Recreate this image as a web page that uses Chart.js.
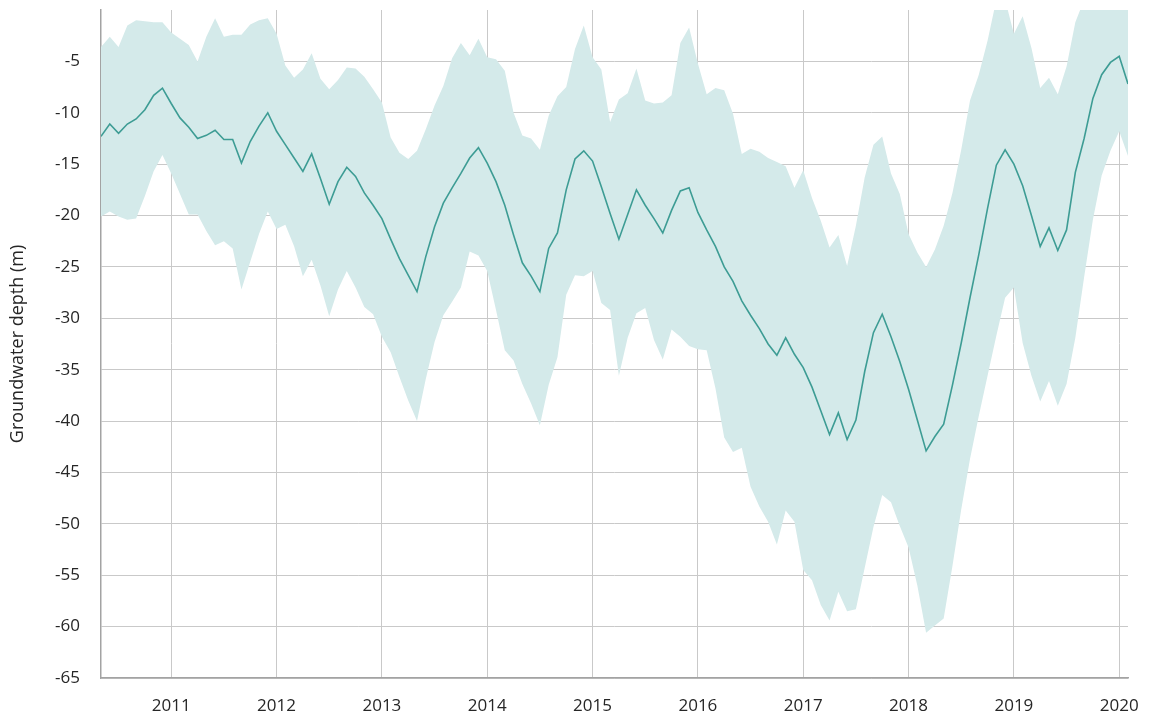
<!DOCTYPE html>
<html>
<head>
    <title>Groundwater depth</title>
    <style>
        body {
            margin: 0;
            background: #ffffff;
        }
        .chart-box {
            width: 1149px;
            height: 722px;
        }
    </style>
</head>
<body>
    <div class="chart-box">
        <canvas id="depthChart" width="1149" height="722"></canvas>
    </div>

    <script src="https://cdn.jsdelivr.net/npm/chart.js"></script>
    <script>
        // monthly series, first value is May 2010
        const startYear = 2010;
        const startMonth = 5;

        const depthMedian = [
            -12.3, -11.1, -12.0, -11.1, -10.6, -9.7, -8.3, -7.6, -9.1, -10.5, -11.4, -12.5,
            -12.2, -11.7, -12.6, -12.6, -14.9, -12.8, -11.3, -10.0, -11.8, -13.1, -14.4, -15.7,
            -14.0, -16.4, -18.9, -16.7, -15.3, -16.2, -17.8, -19.0, -20.3, -22.3, -24.2, -25.8,
            -27.4, -24.0, -21.1, -18.8, -17.3, -15.9, -14.4, -13.4, -14.9, -16.7, -19.0, -21.9,
            -24.6, -25.9, -27.4, -23.2, -21.7, -17.5, -14.5, -13.7, -14.7, -17.2, -19.8, -22.3,
            -19.9, -17.5, -19.0, -20.3, -21.7, -19.5, -17.6, -17.3, -19.7, -21.4, -23.0, -25.0,
            -26.4, -28.3, -29.7, -31.0, -32.5, -33.6, -31.9, -33.5, -34.8, -36.7, -39.0, -41.3,
            -39.2, -41.8, -39.9, -35.2, -31.4, -29.6, -31.8, -34.2, -36.9, -39.9, -42.9, -41.5,
            -40.3, -36.5, -32.4, -28.0, -23.8, -19.3, -15.1, -13.6, -15.0, -17.1, -20.0, -23.0,
            -21.2, -23.4, -21.4, -15.8, -12.5, -8.6, -6.3, -5.1, -4.5, -7.2
        ];

        const depthUpper = [
            -3.6, -2.6, -3.6, -1.5, -1.0, -1.1, -1.2, -1.2, -2.2, -2.8, -3.4, -5.0,
            -2.6, -0.8, -2.6, -2.4, -2.4, -1.4, -1.0, -0.8, -2.3, -5.4, -6.6, -5.8,
            -4.2, -6.7, -7.7, -6.8, -5.6, -5.7, -6.5, -7.7, -9.0, -12.4, -13.9, -14.5,
            -13.7, -11.6, -9.3, -7.4, -4.7, -3.2, -4.4, -2.8, -4.6, -4.8, -5.9, -10.0,
            -12.2, -12.5, -13.6, -10.3, -8.4, -7.5, -3.8, -1.5, -4.6, -5.8, -10.9, -8.7,
            -8.1, -5.7, -8.8, -9.1, -9.0, -8.3, -3.2, -1.7, -5.2, -8.2, -7.6, -7.8,
            -10.1, -14.0, -13.5, -13.8, -14.4, -14.8, -15.2, -17.3, -15.6, -18.3, -20.5, -23.1,
            -21.9, -24.9, -21.0, -16.3, -13.1, -12.3, -15.9, -17.9, -21.8, -23.6, -25.0, -23.3,
            -21.0, -17.8, -13.6, -8.8, -6.3, -3.0, 1.0, 1.0, -2.3, -0.6, -3.7, -7.6,
            -6.6, -8.2, -5.5, -1.2, 1.0, 1.0, 1.0, 1.0, 1.0, 1.0
        ];

        const depthLower = [
            -20.1, -19.6, -20.1, -20.4, -20.3, -18.1, -15.7, -14.1, -15.9, -17.9, -19.9, -19.9,
            -21.5, -22.9, -22.5, -23.2, -27.2, -24.5, -21.8, -19.6, -21.3, -20.9, -23.0, -25.9,
            -24.3, -26.8, -29.8, -27.2, -25.4, -27.0, -28.9, -29.6, -31.8, -33.3, -35.7, -38.0,
            -40.0, -35.9, -32.3, -29.7, -28.4, -27.0, -23.5, -23.9, -25.4, -29.2, -33.1, -34.1,
            -36.4, -38.3, -40.4, -36.5, -33.8, -27.7, -25.8, -25.9, -25.4, -28.5, -29.2, -35.6,
            -31.9, -29.5, -29.0, -32.1, -34.0, -31.1, -31.8, -32.7, -33.0, -33.1, -36.8, -41.6,
            -43.0, -42.6, -46.4, -48.3, -49.8, -52.0, -48.7, -49.8, -54.5, -55.5, -57.9, -59.4,
            -56.6, -58.5, -58.3, -54.3, -50.3, -47.2, -47.9, -50.2, -52.3, -56.0, -60.6, -59.9,
            -59.2, -54.1, -48.6, -43.7, -39.5, -35.6, -31.7, -28.0, -27.0, -32.4, -35.6, -38.1,
            -36.1, -38.5, -36.4, -31.9, -26.0, -20.4, -16.1, -13.7, -11.8, -14.2
        ];

        const yearTicks = [2011, 2012, 2013, 2014, 2015, 2016, 2017, 2018, 2019, 2020];
        const depthTicks = [-65, -60, -55, -50, -45, -40, -35, -30, -25, -20, -15, -10, -5];

        // decimal year for each month
        const dates = depthMedian.map((_, i) => startYear + (startMonth - 1 + i) / 12);

        function toPoints(values) {
            return values.map((v, i) => ({ x: dates[i], y: v }));
        }

        const tickFont = { family: 'Open Sans', size: 17 };
        const gridColor = '#c9c9c9';
        const axisColor = '#a3a3a3';

        new Chart(document.getElementById('depthChart'), {
            type: 'line',
            data: {
                datasets: [
                    {
                        label: 'Median',
                        data: toPoints(depthMedian),
                        borderColor: '#3d9c94',
                        borderWidth: 1.6,
                        pointRadius: 0,
                        tension: 0,
                        fill: false
                    },
                    {
                        label: 'Upper',
                        data: toPoints(depthUpper),
                        borderColor: 'rgba(0,0,0,0)',
                        borderWidth: 0,
                        backgroundColor: '#d4eaea',
                        pointRadius: 0,
                        tension: 0,
                        fill: '+1'
                    },
                    {
                        label: 'Lower',
                        data: toPoints(depthLower),
                        borderColor: 'rgba(0,0,0,0)',
                        borderWidth: 0,
                        pointRadius: 0,
                        tension: 0,
                        fill: false
                    }
                ]
            },
            options: {
                responsive: false,
                animation: false,
                layout: { padding: { top: 10, right: 21, left: 0, bottom: 0 } },
                plugins: {
                    legend: { display: false },
                    tooltip: { enabled: false }
                },
                scales: {
                    x: {
                        type: 'linear',
                        min: dates[0],
                        max: dates[dates.length - 1],
                        afterBuildTicks: scale => {
                            scale.ticks = yearTicks.map(v => ({ value: v }));
                        },
                        afterFit: scale => {
                            scale.height = 44;
                            scale.paddingLeft = 0;
                            scale.paddingRight = 0;
                        },
                        grid: { color: gridColor, lineWidth: 1, drawTicks: false },
                        border: { color: axisColor, width: 1.5 },
                        ticks: {
                            padding: 18,
                            maxRotation: 0,
                            font: tickFont,
                            color: '#262626',
                            callback: v => String(v)
                        }
                    },
                    y: {
                        min: -65,
                        max: 0,
                        afterBuildTicks: scale => {
                            scale.ticks = depthTicks.map(v => ({ value: v }));
                        },
                        afterFit: scale => {
                            scale.width = 101;
                            scale.paddingTop = 0;
                            scale.paddingBottom = 0;
                        },
                        title: {
                            display: true,
                            text: 'Groundwater depth (m)',
                            font: { family: 'Open Sans', size: 18 },
                            color: '#262626',
                            padding: { top: 7, bottom: 0 }
                        },
                        grid: { color: gridColor, lineWidth: 1, drawTicks: false },
                        border: { color: axisColor, width: 1.5 },
                        ticks: {
                            padding: 21,
                            font: tickFont,
                            color: '#262626',
                            callback: v => String(v)
                        }
                    }
                }
            }
        });
    </script>
</body>
</html>
